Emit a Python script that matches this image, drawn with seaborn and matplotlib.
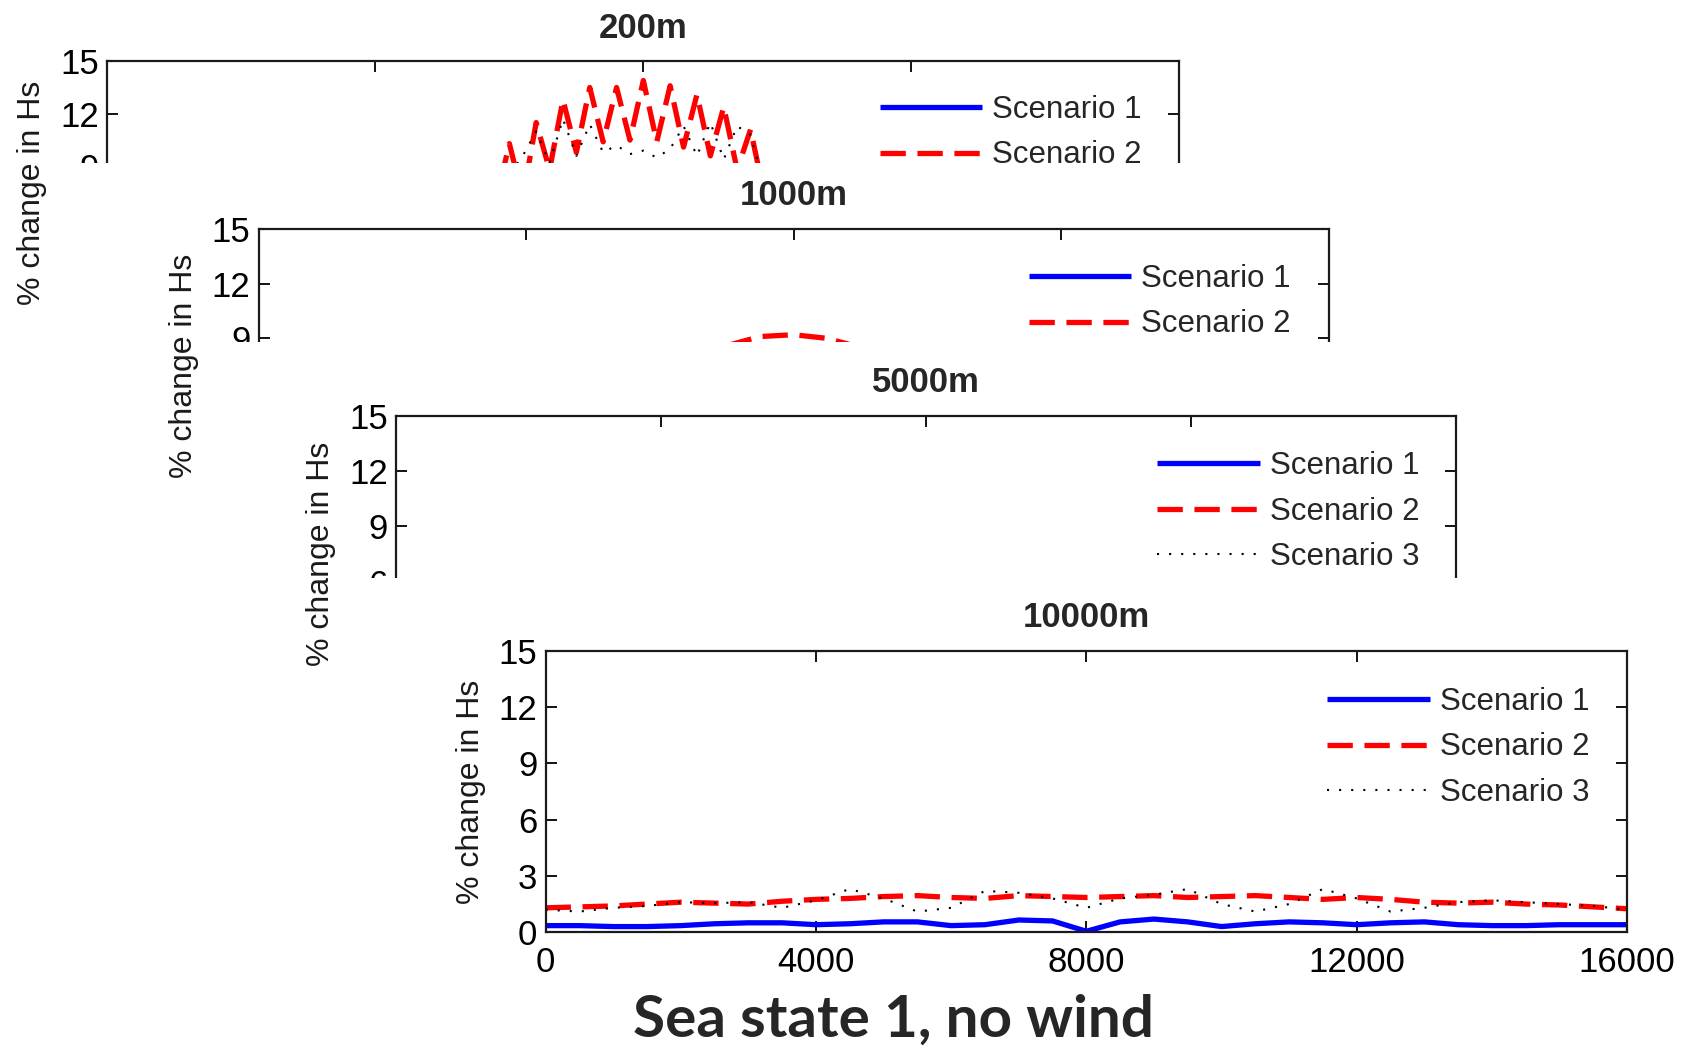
import matplotlib
matplotlib.use("Agg")
import matplotlib.pyplot as plt
from matplotlib import font_manager
from matplotlib.patches import Rectangle
from matplotlib.font_manager import FontProperties
import seaborn as sns

# ---------------------------------------------------------------------------
# Data: % change in significant wave height along the 16 km transect
# ---------------------------------------------------------------------------
titles = ["200m", "1000m", "5000m", "10000m"]
scenario_labels = ["Scenario 1", "Scenario 2", "Scenario 3"]

# 200 m spacing: dense sampling through the farm wake
dist_200 = [0, 1000, 2000, 3000, 4000, 5000, 5400, 5600, 5800, 6000, 6200,
            6400, 6600, 6800, 7000, 7200, 7400, 7600, 7800, 8000, 8200, 8400,
            8600, 8800, 9000, 9200, 9400, 9600, 9800, 10000, 10400, 11000,
            12000, 13000, 14000, 15000, 16000]
s1_200 = [1.0, 1.1, 1.3, 1.5, 1.8, 2.2, 2.4, 2.6, 2.8, 3.0, 3.1, 3.3, 3.4,
          3.5, 3.6, 3.7, 3.7, 3.8, 3.8, 3.8, 3.8, 3.8, 3.7, 3.7, 3.6, 3.5,
          3.4, 3.3, 3.1, 3.0, 2.7, 2.3, 1.9, 1.6, 1.3, 1.1, 1.0]
s2_200 = [3.5, 3.8, 4.2, 4.6, 5.2, 6.0, 6.8, 5.6, 7.0, 10.3, 7.2, 11.5, 8.8,
          12.8, 9.8, 13.5, 10.4, 13.5, 10.5, 13.9, 10.4, 13.6, 10.1, 13.1,
          9.6, 12.4, 8.8, 11.1, 7.5, 8.4, 6.6, 5.8, 5.2, 4.6, 4.2, 3.8, 3.5]
s3_200 = [2.5, 2.8, 3.2, 3.6, 4.2, 5.0, 5.6, 6.0, 7.2, 8.5, 9.6, 11.0, 9.2,
          11.7, 9.6, 11.4, 9.8, 10.2, 9.7, 9.9, 9.5, 10.0, 11.3, 9.6, 11.5,
          9.4, 11.3, 10.8, 8.0, 7.0, 6.0, 5.0, 4.2, 3.6, 3.2, 2.8, 2.5]

# 500 m spacing for the farther transects
dist = [0, 500, 1000, 1500, 2000, 2500, 3000, 3500, 4000, 4500, 5000, 5500,
        6000, 6500, 7000, 7500, 8000, 8500, 9000, 9500, 10000, 10500, 11000,
        11500, 12000, 12500, 13000, 13500, 14000, 14500, 15000, 15500, 16000]

s1_1000 = [0.8, 0.9, 1.0, 1.1, 1.2, 1.4, 1.6, 1.8, 2.0, 2.2, 2.4, 2.6, 2.8,
           2.9, 3.0, 3.1, 3.1, 3.1, 3.0, 2.9, 2.8, 2.6, 2.4, 2.2, 2.0, 1.8,
           1.6, 1.4, 1.2, 1.1, 1.0, 0.9, 0.8]
s2_1000 = [3.0, 3.2, 3.4, 3.7, 4.0, 4.4, 4.8, 5.3, 5.8, 6.4, 7.0, 7.5, 8.0,
           8.4, 8.6, 9.1, 9.2, 9.0, 8.5, 8.3, 7.9, 7.4, 6.9, 6.3, 5.8, 5.3,
           4.8, 4.4, 4.0, 3.7, 3.4, 3.2, 3.0]
s3_1000 = [2.2, 2.4, 2.6, 2.9, 3.2, 3.5, 3.9, 4.3, 4.8, 5.3, 5.8, 6.2, 6.6,
           7.0, 7.3, 7.5, 7.6, 7.5, 7.3, 7.0, 6.6, 6.2, 5.8, 5.3, 4.8, 4.3,
           3.9, 3.5, 3.2, 2.9, 2.6, 2.4, 2.2]

s1_5000 = [0.5, 0.5, 0.6, 0.6, 0.7, 0.8, 0.9, 1.0, 1.1, 1.2, 1.3, 1.4, 1.4,
           1.5, 1.5, 1.5, 1.2, 1.5, 1.5, 1.5, 1.4, 1.4, 1.3, 1.2, 1.1, 1.0,
           0.9, 0.8, 0.7, 0.6, 0.6, 0.5, 0.5]
s2_5000 = [1.8, 1.9, 2.0, 2.2, 2.4, 2.6, 2.8, 3.0, 3.2, 3.4, 3.6, 3.8, 3.9,
           4.0, 4.1, 4.1, 4.0, 4.1, 4.1, 4.0, 3.9, 3.8, 3.6, 3.4, 3.2, 3.0,
           2.8, 2.6, 2.4, 2.2, 2.0, 1.9, 1.8]
s3_5000 = [1.6, 1.7, 1.9, 2.1, 2.3, 2.5, 2.7, 3.0, 3.4, 3.8, 3.2, 3.0, 3.6,
           4.2, 3.9, 3.5, 3.2, 3.5, 3.9, 4.2, 3.6, 3.0, 3.2, 3.8, 3.4, 3.0,
           2.7, 2.5, 2.3, 2.1, 1.9, 1.7, 1.6]

s1_10000 = [0.35, 0.35, 0.30, 0.30, 0.35, 0.45, 0.50, 0.50, 0.40, 0.45, 0.55,
            0.55, 0.35, 0.40, 0.65, 0.60, 0.05, 0.55, 0.70, 0.55, 0.30, 0.45,
            0.55, 0.50, 0.40, 0.50, 0.55, 0.40, 0.35, 0.35, 0.40, 0.40, 0.40]
s2_10000 = [1.30, 1.35, 1.40, 1.50, 1.60, 1.55, 1.50, 1.65, 1.75, 1.80, 1.90,
            1.95, 1.85, 1.80, 1.95, 1.90, 1.85, 1.90, 1.95, 1.85, 1.90, 1.95,
            1.85, 1.75, 1.85, 1.75, 1.60, 1.55, 1.60, 1.50, 1.45, 1.35, 1.25]
s3_10000 = [1.20, 1.10, 1.30, 1.40, 1.60, 1.55, 1.60, 1.30, 1.70, 2.30, 1.80,
            1.10, 1.30, 2.20, 2.10, 1.80, 1.30, 1.80, 2.00, 2.30, 1.50, 1.10,
            1.50, 2.30, 1.80, 1.10, 1.30, 1.60, 1.70, 1.60, 1.50, 1.40, 1.20]

x_ticks = [0, 4000, 8000, 12000, 16000]
y_ticks = [0, 3, 6, 9, 12, 15]
caption = "Sea state 1, no wind"

# ---------------------------------------------------------------------------
# Styling
# ---------------------------------------------------------------------------
sns.set_theme(style="ticks")
available = {f.name for f in font_manager.fontManager.ttflist}
narrow = "Liberation Sans Narrow" if "Liberation Sans Narrow" in available else "Liberation Sans"
plt.rcParams["font.family"] = [narrow, "DejaVu Sans"]
plt.rcParams["lines.scale_dashes"] = True

W, H = 1684, 1051
fig = plt.figure(figsize=(W / 100, H / 100), dpi=100)
fig.patch.set_facecolor("white")

# panel frames in pixels: left, top, width, height
frames = [
    (107.4, 61.2, 1071.9, 263.0),
    (258.8, 228.8, 1069.7, 273.9),
    (396.3, 415.6, 1060.0, 276.6),
    (545.6, 650.8, 1081.5, 281.4),
]
# white backing of each pasted panel (left, top) in pixels
backings = [None, (64, 163), (215, 341.5), (354, 578)]

series = [
    (dist_200, s1_200, s2_200, s3_200),
    (dist, s1_1000, s2_1000, s3_1000),
    (dist, s1_5000, s2_5000, s3_5000),
    (dist, s1_10000, s2_10000, s3_10000),
]

line_styles = [
    dict(color="#0000ff", linewidth=3.8, linestyle="-"),
    dict(color="#ff0000", linewidth=3.8, linestyle=(0, (4.8, 2.2))),
    dict(color="black", linewidth=1.5, linestyle=(0, (1.0, 4.8))),
]

legend_font = FontProperties(family="Liberation Sans", size=22.5)

for i, ((lx, ty, w, h), (xs, a, b, c)) in enumerate(zip(frames, series)):
    z = 10 * (i + 1)
    if backings[i] is not None:
        bx, by = backings[i]
        fig.add_artist(Rectangle((bx / W, 0), 1 - bx / W, 1 - by / H,
                                 transform=fig.transFigure, facecolor="white",
                                 edgecolor="none", zorder=z - 5))
    ax = fig.add_axes([lx / W, 1 - (ty + h) / H, w / W, h / H])
    ax.set_zorder(z)
    ax.set_facecolor("white")

    for ys, st in zip((a, b, c), line_styles):
        sns.lineplot(x=xs, y=ys, ax=ax, sort=False, estimator=None,
                     legend=False, solid_capstyle="butt",
                     dash_capstyle="butt", **st)

    ax.set_xlim(0, 16000)
    ax.set_ylim(0, 15)
    ax.set_xticks(x_ticks)
    ax.set_yticks(y_ticks)
    ax.set_xticklabels([str(t) for t in x_ticks])
    ax.set_yticklabels([str(t) for t in y_ticks])
    ax.tick_params(direction="in", length=8, width=1.3, top=True, right=True,
                   labelsize=25, colors="black")
    ax.tick_params(axis="x", pad=10)
    ax.tick_params(axis="y", pad=6)
    for sp in ax.spines.values():
        sp.set_visible(True)
        sp.set_linewidth(1.6)
        sp.set_color("#1a1a1a")
    ax.set_xlabel("")
    ax.set_ylabel("% change in Hs", fontsize=23, family="Liberation Sans",
                  color="#1a1a1a")
    ax.yaxis.set_label_coords(-60 / w, 0.5)
    ax.set_title(titles[i], fontsize=25, fontweight="bold", pad=17,
                 family=narrow)

    ax.legend(handles=ax.get_lines()[:3], labels=scenario_labels,
              loc="upper right", bbox_to_anchor=(0.965, 0.872),
              frameon=False, borderpad=0, borderaxespad=0,
              handlelength=3.27, handletextpad=0.32, labelspacing=0.5,
              prop=legend_font)

fig.text(893.6 / W, 1 - 1020 / H, caption, ha="center", va="center",
         fontsize=42, fontweight="bold", family=["Lato", "DejaVu Sans"],
         zorder=100)

fig.savefig("out.png", dpi=100, facecolor="white")
